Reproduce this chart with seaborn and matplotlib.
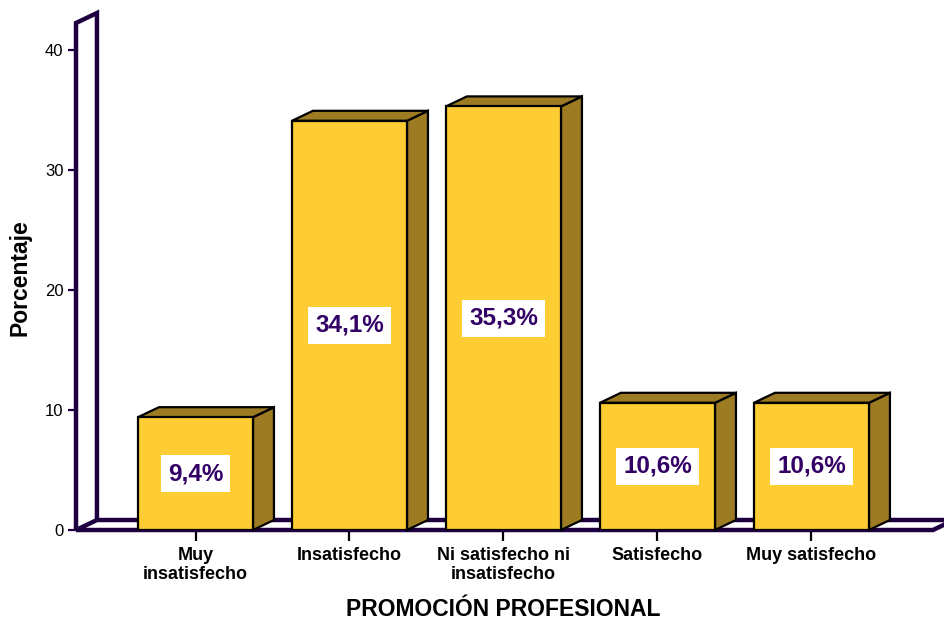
import matplotlib
matplotlib.use("Agg")
import matplotlib.pyplot as plt
from matplotlib.patches import Polygon
import seaborn as sns

categorias = ["Muy\ninsatisfecho", "Insatisfecho", "Ni satisfecho ni\ninsatisfecho",
              "Satisfecho", "Muy satisfecho"]
porcentajes = [9.4, 34.1, 35.3, 10.6, 10.6]
y_ticks = [0, 10, 20, 30, 40]

frente = "#FECC33"
lateral = "#9C7B22"
marco = "#1E0040"
texto_valor = "#330066"

sns.set_theme(style="white")
plt.rcParams["font.family"] = ["Liberation Sans", "DejaVu Sans"]

fig = plt.figure(figsize=(9.45, 6.19), dpi=100)
ax = fig.add_axes([76 / 945, 1 - 530 / 619, 869 / 945, 520 / 619])

# perspective offset of the pseudo-3D depth, in data units
dx, dy = 0.136, 0.833

sns.barplot(x=categorias, y=porcentajes, width=0.747, color=frente, saturation=1,
            edgecolor="black", linewidth=1.6, ax=ax, zorder=4)

ax.set_xlim(-0.776, 4.867)
ax.set_ylim(0, 43.333)

# back wall and floor
x_left, x_right = -0.776, 4.789
wall = Polygon([(x_left, 0), (x_left, 42.25), (x_left + dx, 42.25 + dy), (x_left + dx, dy)],
               closed=False, fill=False, edgecolor=marco, linewidth=3.2, clip_on=False, zorder=1,
               joinstyle="miter")
floor = Polygon([(x_left, 0), (x_right, 0), (x_right + dx, dy), (x_left + dx, dy)],
                closed=True, fill=False, edgecolor=marco, linewidth=3.2, clip_on=False, zorder=1,
                joinstyle="miter")
ax.add_patch(wall)
ax.add_patch(floor)

# side and top faces of each bar
for p in list(ax.patches):
    if p in (wall, floor):
        continue
    x0, w, h = p.get_x(), p.get_width(), p.get_height()
    side = Polygon([(x0 + w, 0), (x0 + w + dx, dy), (x0 + w + dx, h + dy), (x0 + w, h)],
                   closed=True, facecolor=lateral, edgecolor="black", linewidth=1.6,
                   clip_on=False, zorder=3)
    top = Polygon([(x0, h), (x0 + dx, h + dy), (x0 + w + dx, h + dy), (x0 + w, h)],
                  closed=True, facecolor=lateral, edgecolor="black", linewidth=1.6,
                  clip_on=False, zorder=3)
    ax.add_patch(side)
    ax.add_patch(top)

for i, v in enumerate(porcentajes):
    ax.text(i, v / 2, f"{v:.1f}%".replace(".", ","), ha="center", va="center",
            fontsize=17.5, fontweight="bold", color=texto_valor, zorder=6,
            bbox=dict(boxstyle="square,pad=0.28", facecolor="white", edgecolor="none"))

for s in ax.spines.values():
    s.set_visible(False)

ax.set_yticks(y_ticks)
ax.set_yticklabels([str(t) for t in y_ticks])
ax.tick_params(axis="y", left=True, length=6, width=1.6, color=marco, pad=3,
               labelsize=12, labelcolor="black")
ax.tick_params(axis="x", bottom=True, length=8, width=1.6, color="black", pad=4,
               labelsize=13, labelcolor="black")
for lbl in ax.get_xticklabels():
    lbl.set_fontweight("bold")
    lbl.set_linespacing(1.2)

ax.set_xlabel("PROMOCIÓN PROFESIONAL", fontsize=16.5, fontweight="bold", color="black")
ax.xaxis.set_label_coords((503.5 - 76) / 869, (530 - 609) / 520)
ax.xaxis.label.set_va("center")
ax.set_ylabel("Porcentaje", fontsize=16.5, fontweight="bold", color="black")
ax.yaxis.set_label_coords((20 - 76) / 869, (530 - 278) / 520)
ax.yaxis.label.set_va("center")

fig.savefig("out.png", dpi=100, facecolor="white")
